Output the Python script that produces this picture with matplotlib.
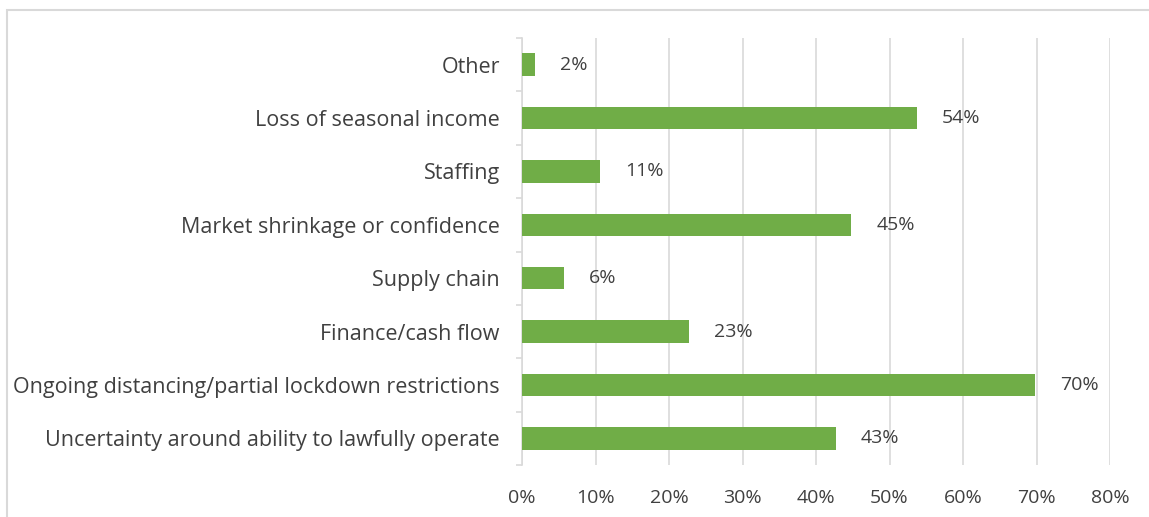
import numpy as np
import matplotlib.pyplot as plt
from matplotlib.patches import Rectangle

# data, bottom to top as drawn
categories = ["Uncertainty around ability to lawfully operate",
              "Ongoing distancing/partial lockdown restrictions",
              "Finance/cash flow",
              "Supply chain",
              "Market shrinkage or confidence",
              "Staffing",
              "Loss of seasonal income",
              "Other"]
values = [0.427, 0.698, 0.227, 0.057, 0.448, 0.106, 0.537, 0.018]
value_labels = ["43%", "70%", "23%", "6%", "45%", "11%", "54%", "2%"]
x_ticks = [0, 0.1, 0.2, 0.3, 0.4, 0.5, 0.6, 0.7, 0.8]
x_tick_labels = ["0%", "10%", "20%", "30%", "40%", "50%", "60%", "70%", "80%"]

green = "#70AD47"
txt = "#404040"
grey = "#d9d9d9"
plt.rcParams['font.family'] = ['Open Sans', 'DejaVu Sans']

fig = plt.figure(figsize=(11.49, 5.17), dpi=100)
# chart frame (cut off at right and bottom)
fig.patches.append(Rectangle((7/1149, -0.1), 1.2, 1.1 - 10/517, transform=fig.transFigure,
                             fill=False, edgecolor=grey, linewidth=1.5))

ax = fig.add_axes([522/1149, 1 - 465/517, (1110 - 522)/1149, (465 - 38)/517])
y = np.arange(len(categories))
ax.barh(y, values, height=0.42, color=green, zorder=3)
for yi, v, lab in zip(y, values, value_labels):
    ax.annotate(lab, (v, yi), xytext=(18, 0), textcoords="offset points",
                va="center", ha="left", fontsize=14, color=txt)

ax.set_xlim(0, 0.8)
ax.set_ylim(-0.5, len(categories) - 0.5)
ax.set_xticks(x_ticks)
ax.set_xticklabels(x_tick_labels)
ax.set_yticks(y)
ax.set_yticklabels(categories)
ax.set_yticks(np.arange(-0.5, len(categories)), minor=True)
ax.tick_params(axis="x", length=0, pad=17, labelsize=14, labelcolor=txt)
ax.tick_params(axis="y", which="major", length=0, pad=16, labelsize=15.5, labelcolor=txt)
ax.tick_params(axis="y", which="minor", length=4, color=grey, width=1.2)
ax.grid(axis="x", color=grey, linewidth=1.2, zorder=0)
for s in ["top", "right", "bottom"]:
    ax.spines[s].set_visible(False)
ax.spines["left"].set_color(grey)
ax.spines["left"].set_linewidth(1.2)

fig.savefig("out.png", dpi=100)
